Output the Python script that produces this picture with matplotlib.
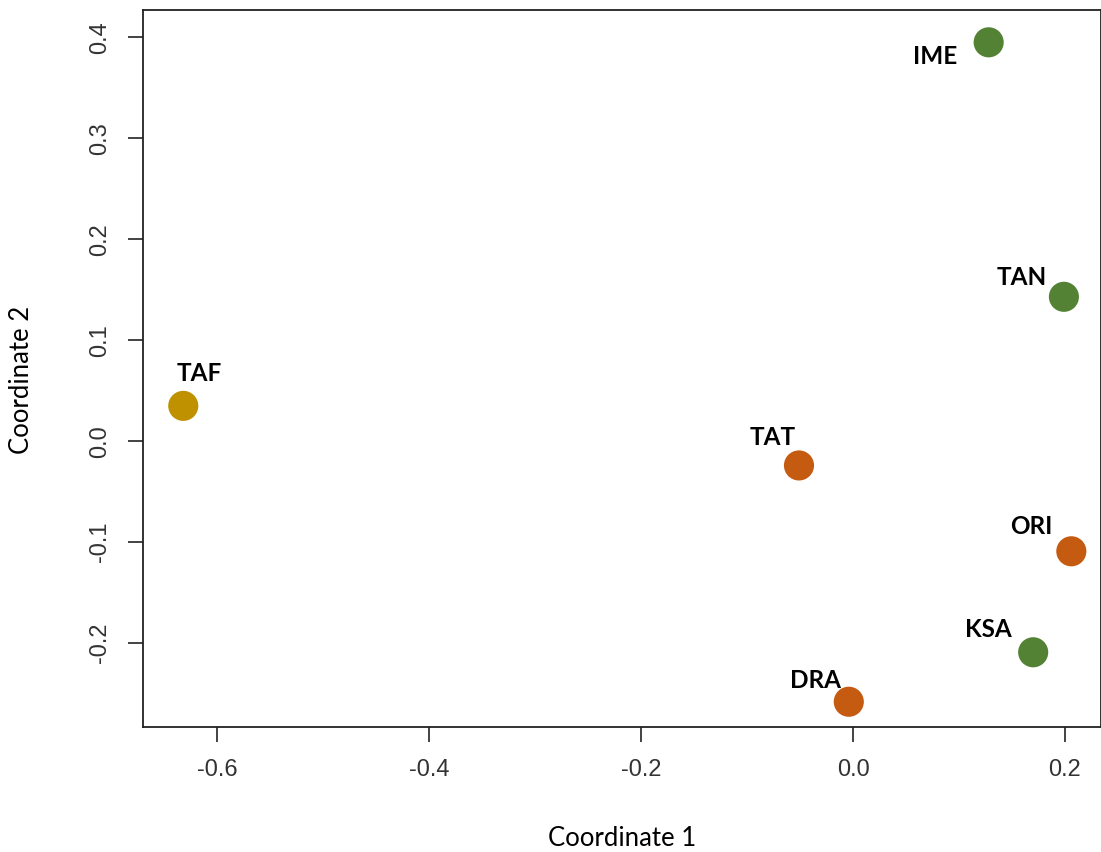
import matplotlib
matplotlib.use("Agg")
import matplotlib.pyplot as plt

# MDS coordinates of the populations
names = ["IME", "TAN", "TAF", "TAT", "ORI", "KSA", "DRA"]
coord1 = [0.128, 0.199, -0.632, -0.051, 0.206, 0.170, -0.004]
coord2 = [0.395, 0.143, 0.035, -0.024, -0.109, -0.209, -0.258]
groups = ["g", "g", "y", "o", "o", "g", "o"]

group_colors = {"g": "#548235", "o": "#C55A11", "y": "#BF9000"}

# label placement (pixel offsets from the point, horizontal alignment)
label_pos = {
    "IME": (-31, -14, "right"),
    "TAN": (-17, 19, "right"),
    "TAF": (16, 32, "center"),
    "TAT": (-3, 28, "right"),
    "ORI": (-19, 25, "right"),
    "KSA": (-21, 23, "right"),
    "DRA": (-8, 21, "right"),
}

W, H = 1101, 852
fig = plt.figure(figsize=(W / 100, H / 100), dpi=100)
ax = fig.add_axes([143 / W, 1 - 727 / H, (W - 143) / W, (727 - 10) / H])

ax.scatter(coord1, coord2, s=470, c=[group_colors[g] for g in groups],
           edgecolors="none", zorder=3, clip_on=False)

for n, x, y in zip(names, coord1, coord2):
    dx, dy, ha = label_pos[n]
    ax.annotate(n, (x, y), xytext=(dx, dy), textcoords="offset pixels",
                ha=ha, va="center", fontsize=17.5, fontweight="bold",
                family=["Lato", "DejaVu Sans"], color="black")

ax.set_xlim(-0.670, 0.234)
ax.set_ylim(-0.283, 0.427)
ax.set_xticks([-0.6, -0.4, -0.2, 0.0, 0.2])
ax.set_yticks([-0.2, -0.1, 0.0, 0.1, 0.2, 0.3, 0.4])
ax.set_xticklabels(["-0.6", "-0.4", "-0.2", "0.0", "0.2"])
ax.set_yticklabels(["-0.2", "-0.1", "0.0", "0.1", "0.2", "0.3", "0.4"],
                   rotation=90, va="center")

for lab in ax.get_xticklabels() + ax.get_yticklabels():
    lab.set_family(["Liberation Sans", "DejaVu Sans"])
    lab.set_fontsize(17)
    lab.set_color("#333333")

ax.tick_params(length=11, width=1.2, color="#222222", pad=12)
for sp in ax.spines.values():
    sp.set_linewidth(1.3)
    sp.set_color("#222222")

fig.text(622 / W, 1 - 838 / H, "Coordinate 1", ha="center", va="center",
         fontsize=18.5, family=["Lato", "DejaVu Sans"])
fig.text(22 / W, 1 - 380 / H, "Coordinate 2", ha="center", va="center",
         rotation=90, fontsize=18.5, family=["Lato", "DejaVu Sans"])

fig.savefig("out.png", dpi=100)
